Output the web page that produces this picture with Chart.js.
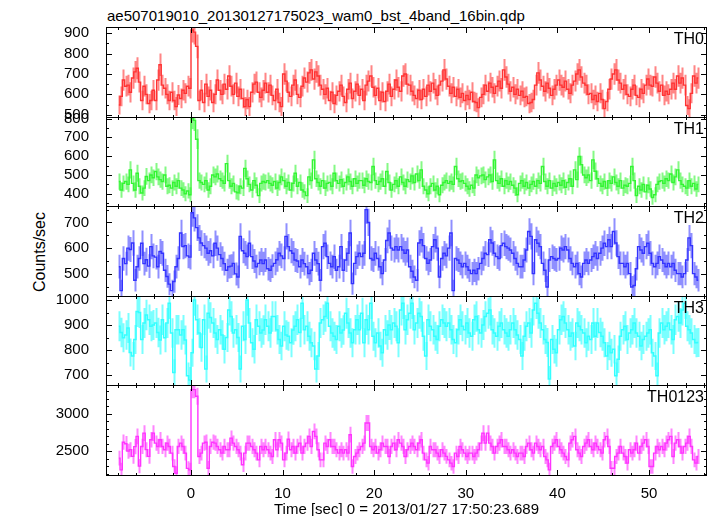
<!DOCTYPE html>
<html>
<head>
<meta charset="utf-8">
<script src="https://cdn.jsdelivr.net/npm/chart.js@4.4.0/dist/chart.umd.min.js"></script>
<style>
  html, body { margin: 0; padding: 0; background: #fff; overflow: hidden; }
  #wrap { position: relative; width: 717px; height: 516px; overflow: hidden; font-family: "Liberation Sans", Arial, sans-serif; color: #000; }
  #wrap canvas { position: absolute; left: 0; }
  #title { position: absolute; left: 107px; top: 7px; font-size: 15px; white-space: nowrap; }
  #ylab { position: absolute; left: 40px; top: 252px; font-size: 16px; white-space: nowrap; transform: translate(-50%, -50%) rotate(-90deg); }
</style>
</head>
<body>
<div id="wrap">
  <div id="title">ae507019010_20130127175023_wam0_bst_4band_16bin.qdp</div>
  <div id="ylab">Counts/sec</div>
</div>
<script>
"use strict";
// time bins (sec from 2013/01/27 17:50:23.689)
var binStart = -7.875;
var binSec = 0.25;

var panelNames = ["TH0", "TH1", "TH2", "TH3", "TH0123"];
var xTickLabels = [0, 10, 20, 30, 40, 50];

// counts/sec, one value per 0.25 s bin
var th0 = [
  548, 590, 670, 640, 645, 610, 680, 710, 728, 660, 570, 640, 600, 555, 570, 620,
  570, 670, 745, 645, 630, 600, 570, 610, 570, 540, 597, 580, 620, 605, 640, 630,
  915, 905, 835, 570, 620, 560, 650, 590, 620, 560, 600, 670, 620, 600, 650, 625,
  690, 640, 600, 655, 590, 625, 580, 540, 575, 540, 610, 650, 660, 610, 585, 620,
  655, 610, 645, 595, 570, 625, 560, 540, 700, 665, 610, 590, 645, 670, 600, 585,
  640, 680, 660, 705, 720, 675, 710, 690, 645, 625, 600, 630, 570, 610, 555, 595,
  615, 645, 590, 560, 625, 655, 580, 615, 650, 595, 625, 570, 645, 665, 690, 635,
  595, 630, 570, 610, 565, 615, 650, 590, 625, 670, 635, 615, 690, 700, 650, 645,
  615, 595, 580, 620, 575, 625, 590, 645, 615, 655, 625, 595, 645, 665, 720, 675,
  640, 605, 635, 590, 625, 585, 605, 570, 595, 575, 610, 565, 560, 535, 585, 600,
  645, 615, 655, 635, 605, 640, 665, 630, 720, 685, 650, 615, 635, 600, 625, 595,
  615, 585, 590, 555, 560, 575, 645, 705, 670, 640, 615, 655, 630, 595, 625, 645,
  670, 645, 635, 665, 625, 605, 645, 665, 700, 720, 685, 655, 645, 600, 605, 575,
  595, 565, 605, 575, 530, 565, 625, 675, 700, 720, 670, 655, 625, 645, 600, 590,
  625, 645, 595, 585, 625, 605, 645, 675, 645, 640, 685, 655, 615, 645, 595, 615,
  600, 625, 655, 625, 690, 655, 680, 645, 545, 530, 605, 690, 655, 680
];
var th1 = [
  465, 420, 455, 465, 450, 527, 455, 420, 509, 440, 404, 430, 492, 470, 500, 485,
  518, 490, 475, 465, 500, 440, 445, 430, 460, 440, 470, 430, 420, 400, 415, 395,
  800, 790, 690, 470, 460, 450, 470, 420, 440, 500, 490, 505, 480, 470, 455, 560,
  470, 440, 455, 410, 405, 440, 430, 535, 480, 450, 420, 470, 445, 390, 455, 465,
  460, 470, 455, 445, 465, 430, 460, 490, 470, 440, 460, 420, 455, 509, 440, 460,
  420, 410, 390, 490, 470, 580, 480, 460, 440, 470, 430, 455, 460, 440, 509, 470,
  455, 475, 440, 460, 490, 465, 440, 480, 455, 470, 470, 445, 480, 465, 460, 545,
  470, 450, 465, 480, 440, 518, 460, 420, 450, 470, 440, 490, 460, 440, 475, 465,
  495, 460, 505, 470, 527, 440, 420, 400, 440, 455, 420, 440, 395, 445, 460, 470,
  455, 465, 450, 545, 480, 465, 470, 455, 440, 425, 445, 430, 500, 485, 495, 500,
  475, 490, 500, 465, 580, 470, 455, 480, 440, 470, 450, 465, 445, 430, 395, 455,
  470, 440, 460, 430, 450, 465, 440, 470, 455, 545, 465, 440, 470, 430, 455, 440,
  460, 445, 470, 435, 460, 480, 440, 527, 475, 598, 555, 500, 485, 500, 470, 580,
  520, 480, 455, 440, 465, 430, 470, 455, 490, 460, 440, 470, 430, 445, 440, 455,
  545, 470, 390, 440, 420, 450, 410, 445, 425, 380, 395, 450, 465, 470, 455, 480,
  470, 505, 460, 490, 527, 470, 450, 440, 430, 470, 440, 455, 425, 450
];
var th2 = [
  528, 435, 560, 540, 600, 595, 620, 475, 528, 560, 619, 540, 555, 530, 606, 570,
  565, 528, 587, 580, 514, 490, 460, 435, 470, 528, 560, 659, 606, 610, 570, 565,
  738, 718, 680, 640, 620, 610, 600, 580, 590, 570, 619, 600, 575, 560, 540, 514,
  528, 530, 541, 500, 488, 646, 590, 580, 567, 619, 567, 550, 528, 541, 554, 540,
  554, 520, 514, 530, 541, 555, 580, 570, 560, 646, 606, 590, 580, 554, 550, 528,
  554, 540, 528, 501, 514, 580, 554, 540, 475, 606, 619, 567, 541, 528, 567, 514,
  528, 606, 514, 554, 580, 659, 462, 541, 567, 580, 567, 580, 750, 700, 560, 554,
  580, 560, 528, 501, 554, 630, 659, 600, 593, 606, 593, 606, 593, 580, 593, 528,
  510, 488, 475, 620, 633, 610, 560, 541, 554, 606, 633, 600, 488, 560, 580, 570,
  600, 659, 435, 560, 554, 541, 528, 541, 528, 514, 501, 514, 501, 520, 541, 560,
  580, 575, 633, 620, 580, 567, 560, 610, 619, 606, 600, 593, 580, 560, 541, 528,
  528, 554, 593, 665, 646, 501, 633, 619, 606, 541, 514, 449, 554, 567, 560, 554,
  560, 600, 593, 606, 593, 560, 541, 528, 541, 501, 488, 541, 554, 541, 554, 567,
  580, 560, 580, 600, 619, 606, 633, 606, 665, 620, 567, 541, 541, 528, 541, 501,
  449, 455, 520, 606, 593, 580, 606, 619, 580, 541, 528, 541, 567, 554, 541, 528,
  541, 528, 541, 514, 501, 501, 488, 501, 554, 640, 610, 501, 488, 475
];
var th3 = [
  895, 870, 849, 860, 888, 790, 776, 842, 954, 950, 842, 908, 940, 921, 895, 900,
  908, 870, 840, 921, 849, 908, 987, 868, 710, 881, 881, 860, 881, 840, 697, 680,
  789, 1000, 921, 868, 810, 921, 724, 947, 930, 908, 868, 842, 881, 860, 803, 850,
  960, 934, 868, 881, 850, 724, 895, 842, 1000, 908, 829, 803, 921, 895, 868, 880,
  921, 895, 868, 934, 934, 881, 842, 816, 895, 860, 855, 829, 880, 895, 921, 870,
  987, 881, 895, 855, 829, 816, 724, 776, 908, 921, 934, 987, 895, 868, 855, 842,
  895, 868, 880, 947, 908, 868, 829, 881, 921, 881, 947, 829, 921, 881, 987, 855,
  829, 868, 816, 789, 881, 860, 900, 881, 908, 895, 829, 960, 987, 881, 921, 947,
  987, 881, 908, 947, 934, 855, 776, 921, 895, 881, 855, 842, 895, 921, 908, 895,
  908, 881, 842, 829, 881, 921, 895, 881, 908, 868, 855, 921, 934, 881, 868, 900,
  934, 947, 960, 881, 868, 855, 895, 908, 881, 868, 855, 881, 908, 881, 860, 842,
  776, 855, 895, 908, 868, 960, 987, 947, 908, 881, 842, 830, 684, 842, 803, 789,
  881, 921, 934, 908, 881, 855, 868, 816, 908, 895, 881, 868, 829, 855, 842, 908,
  855, 908, 870, 855, 829, 776, 816, 789, 803, 697, 763, 855, 881, 895, 842, 868,
  881, 908, 868, 855, 816, 842, 855, 868, 881, 789, 776, 697, 868, 908, 881, 895,
  908, 881, 842, 921, 934, 908, 960, 987, 895, 881, 868, 842, 829, 830
];
var th0123 = [
  2407, 2250, 2620, 2600, 2500, 2520, 2430, 2560, 2697, 2300, 2563, 2741, 2520, 2430, 2652, 2741,
  2607, 2563, 2652, 2563, 2518, 2607, 2563, 2474, 2295, 2206, 2563, 2607, 2563, 2474, 2270, 2251,
  3321, 3321, 3232, 2429, 2474, 2607, 2620, 2273, 2563, 2620, 2607, 2563, 2518, 2474, 2563, 2518,
  2518, 2674, 2607, 2563, 2518, 2474, 2318, 2474, 2607, 2607, 2563, 2518, 2474, 2384, 2563, 2518,
  2563, 2518, 2474, 2429, 2652, 2518, 2652, 2607, 2384, 2474, 2660, 2518, 2563, 2474, 2563, 2607,
  2474, 2563, 2607, 2697, 2563, 2763, 2697, 2518, 2384, 2384, 2607, 2563, 2652, 2563, 2563, 2518,
  2474, 2518, 2474, 2518, 2474, 2720, 2295, 2429, 2474, 2518, 2563, 2607, 2875, 2875, 2563, 2518,
  2563, 2474, 2518, 2607, 2563, 2563, 2429, 2563, 2607, 2518, 2652, 2607, 2563, 2429, 2518, 2563,
  2607, 2563, 2518, 2607, 2652, 2474, 2384, 2340, 2563, 2518, 2518, 2474, 2429, 2518, 2474, 2430,
  2384, 2340, 2295, 2474, 2429, 2563, 2518, 2474, 2429, 2474, 2474, 2429, 2474, 2518, 2607, 2741,
  2607, 2741, 2607, 2563, 2474, 2563, 2607, 2652, 2563, 2563, 2518, 2474, 2518, 2474, 2429, 2474,
  2474, 2429, 2563, 2607, 2518, 2474, 2607, 2563, 2518, 2563, 2429, 2384, 2251, 2563, 2607, 2652,
  2563, 2518, 2474, 2429, 2384, 2607, 2652, 2697, 2518, 2474, 2429, 2563, 2607, 2652, 2563, 2518,
  2607, 2563, 2518, 2474, 2652, 2697, 2563, 2273, 2273, 2429, 2474, 2563, 2474, 2429, 2340, 2518,
  2474, 2518, 2607, 2474, 2563, 2607, 2652, 2563, 2295, 2295, 2474, 2563, 2518, 2563, 2518, 2607,
  2652, 2697, 2429, 2607, 2652, 2563, 2474, 2563, 2607, 2697, 2563, 2384, 2340, 2429
];

var series = [th0, th1, th2, th3, th0123];
var yTickLabels = [
  [500, 600, 700, 800, 900],
  [400, 500, 600, 700, 800],
  [500, 600, 700],
  [700, 800, 900, 1000],
  [2500, 3000]
];

// axis ranges / look
var yMin = [489, 335, 414, 660, 2182];
var yMax = [930, 808, 764, 1016, 3383];
var yMinor = [50, 50, 50, 50, 100];
var xMin = -9.28, xMax = 56.33;
var lineColors = ["#ff3333", "#33f533", "#3333ff", "#33ffff", "#ff33ff"];
var errColors = ["rgba(255,51,51,0.6)", "rgba(51,245,51,0.6)", "rgba(51,51,255,0.55)", "rgba(51,255,255,0.65)", "rgba(255,51,255,0.6)"];
var edges = [27, 117, 206, 296, 385, 475];
var fontFam = "'Liberation Sans', Arial, sans-serif";

var errBarPlugin = {
  id: "errBars",
  beforeDatasetsDraw: function (chart) {
    var ctx = chart.ctx;
    var a = chart.chartArea;
    var xs = chart.scales.x, ys = chart.scales.y;
    var ds = chart.data.datasets[0];
    ctx.save();
    ctx.beginPath();
    ctx.rect(a.left, a.top, a.right - a.left, a.bottom - a.top);
    ctx.clip();
    ctx.strokeStyle = ds.errColor;
    ctx.lineWidth = 2;
    ctx.beginPath();
    ds.data.forEach(function (p) {
      var e = Math.sqrt(p.y / binSec); // poisson error of the bin
      var px = Math.round(xs.getPixelForValue(p.x)) + 0.5;
      ctx.moveTo(px, ys.getPixelForValue(p.y - e));
      ctx.lineTo(px, ys.getPixelForValue(p.y + e));
    });
    ctx.stroke();
    ctx.restore();
  }
};

var framePlugin = {
  id: "frame",
  afterDraw: function (chart) {
    var ctx = chart.ctx;
    var a = chart.chartArea;
    var xs = chart.scales.x, ys = chart.scales.y;
    var i = chart.$panel;
    if (i === undefined) return;
    var L = Math.round(a.left), R = Math.round(a.right) - 1;
    var T = Math.round(a.top), B = Math.round(a.bottom);
    ctx.save();
    ctx.fillStyle = "#000";
    ctx.fillRect(L, T, R - L + 1, 1);
    ctx.fillRect(L, B, R - L + 1, 1);
    ctx.fillRect(L, T, 1, B - T + 1);
    ctx.fillRect(R, T, 1, B - T + 1);
    // x ticks, top and bottom, inside
    for (var v = -8; v <= 56; v += 2) {
      var px = Math.round(xs.getPixelForValue(v));
      var len = v % 10 === 0 ? 6 : 3;
      ctx.fillRect(px, T, 1, len);
      ctx.fillRect(px, B - len + 1, 1, len);
    }
    // y ticks, left and right, inside
    var step = yMinor[i];
    for (var w = Math.ceil(yMin[i] / step) * step; w <= yMax[i]; w += step) {
      var py = Math.round(ys.getPixelForValue(w));
      var l2 = yTickLabels[i].indexOf(w) >= 0 ? 6 : 3;
      ctx.fillRect(L, py, l2, 1);
      ctx.fillRect(R - l2 + 1, py, l2, 1);
    }
    // panel name
    ctx.font = "16px " + fontFam;
    ctx.textAlign = "right";
    ctx.textBaseline = "alphabetic";
    ctx.fillText(panelNames[i], a.right - 3, a.top + 16.5);
    ctx.restore();
  }
};

var wrap = document.getElementById("wrap");

function makePanel(i) {
  var top = edges[i], bot = edges[i + 1];
  var last = i === series.length - 1;
  var pad = 24;
  var h = last ? 158 : (bot - top) + 2 * pad;
  var cv = document.createElement("canvas");
  cv.width = 717;
  cv.height = h;
  cv.style.top = (top - pad) + "px";
  wrap.appendChild(cv);

  var pts = series[i].map(function (v, k) {
    return { x: binStart + k * binSec, y: v };
  });

  var chart = new Chart(cv, {
    type: "line",
    data: {
      datasets: [{
        data: pts,
        borderColor: lineColors[i],
        errColor: errColors[i],
        borderWidth: 1.4,
        stepped: "middle",
        pointRadius: 0,
        fill: false
      }]
    },
    options: {
      responsive: false,
      animation: false,
      events: [],
      layout: { padding: { left: 0, right: 10, top: pad, bottom: last ? 0 : pad } },
      plugins: { legend: { display: false }, tooltip: { enabled: false } },
      scales: {
        x: {
          type: "linear",
          min: xMin,
          max: xMax,
          display: last,
          grid: { display: false },
          border: { display: false },
          afterBuildTicks: function (s) {
            s.ticks = xTickLabels.map(function (v) { return { value: v }; });
          },
          afterFit: function (s) {
            if (last) s.height = h - (bot - top + pad);
          },
          ticks: {
            color: "#000", font: { size: 15, family: fontFam }, padding: 2, maxRotation: 0, autoSkip: false,
            callback: function (v) { return String(v); }
          },
          title: {
            display: true,
            text: "Time [sec] 0 = 2013/01/27 17:50:23.689",
            color: "#000",
            font: { size: 15, family: fontFam },
            padding: { top: 0, bottom: 0 }
          }
        },
        y: {
          type: "linear",
          min: yMin[i],
          max: yMax[i],
          grid: { display: false },
          border: { display: false },
          afterBuildTicks: function (s) {
            s.ticks = yTickLabels[i].map(function (v) { return { value: v }; });
          },
          afterFit: function (s) {
            s.width = 106;
          },
          ticks: {
            color: "#000", font: { size: 15, family: fontFam }, padding: 9, autoSkip: false,
            callback: function (v) { return String(v); }
          }
        }
      }
    },
    plugins: [errBarPlugin, framePlugin]
  });
  chart.$panel = i;
  chart.draw();
}

for (var i = 0; i < series.length; i++) makePanel(i);
</script>
</body>
</html>
